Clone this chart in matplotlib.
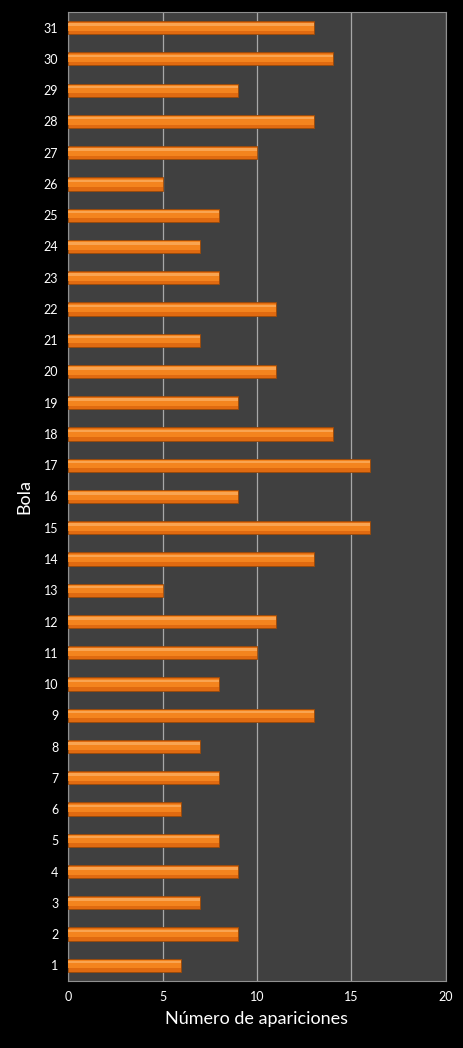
import matplotlib.pyplot as plt
import numpy as np

# Data
bolas = list(range(1, 32))
apariciones = [6, 9, 7, 9, 8, 6, 8, 7, 13, 8,
               10, 11, 5, 13, 16, 9, 16, 14, 9, 11,
               7, 11, 8, 7, 8, 5, 10, 13, 9, 14, 13]

plt.rcParams['font.family'] = ['Lato', 'DejaVu Sans']

fig = plt.figure(figsize=(4.63, 10.48), dpi=100, facecolor='black')
ax = fig.add_axes([0.147, 0.064, 0.816, 0.9245])
ax.set_facecolor('#404040')

y = np.array(bolas)
h = 0.42
# base bar (darker bottom edge)
ax.barh(y, apariciones, height=h, color='#E06A10', edgecolor='#9A4A0A', linewidth=0.6, zorder=3)
# lighter body
ax.barh(y + 0.03, apariciones, height=h * 0.62, color='#F4841E', linewidth=0, zorder=4)
# highlight stripe
ax.barh(y + 0.1, apariciones, height=h * 0.18, color='#F9A451', linewidth=0, zorder=5)

ax.set_xlim(0, 20)
ax.set_ylim(0.5, 31.5)
ax.set_xticks(range(0, 21, 5))
ax.set_yticks(bolas)
ax.xaxis.grid(True, color='#A8A8A8', linewidth=0.9, zorder=1)
ax.set_axisbelow(True)

ax.tick_params(colors='white', labelsize=9, length=0, pad=7)
for s in ax.spines.values():
    s.set_color('#909090')
    s.set_linewidth(0.8)

ax.set_xlabel('Número de apariciones', color='white', fontsize=13, labelpad=6)
ax.set_ylabel('Bola', color='white', fontsize=13, labelpad=8)

fig.savefig('out.png', dpi=100, facecolor='black')
